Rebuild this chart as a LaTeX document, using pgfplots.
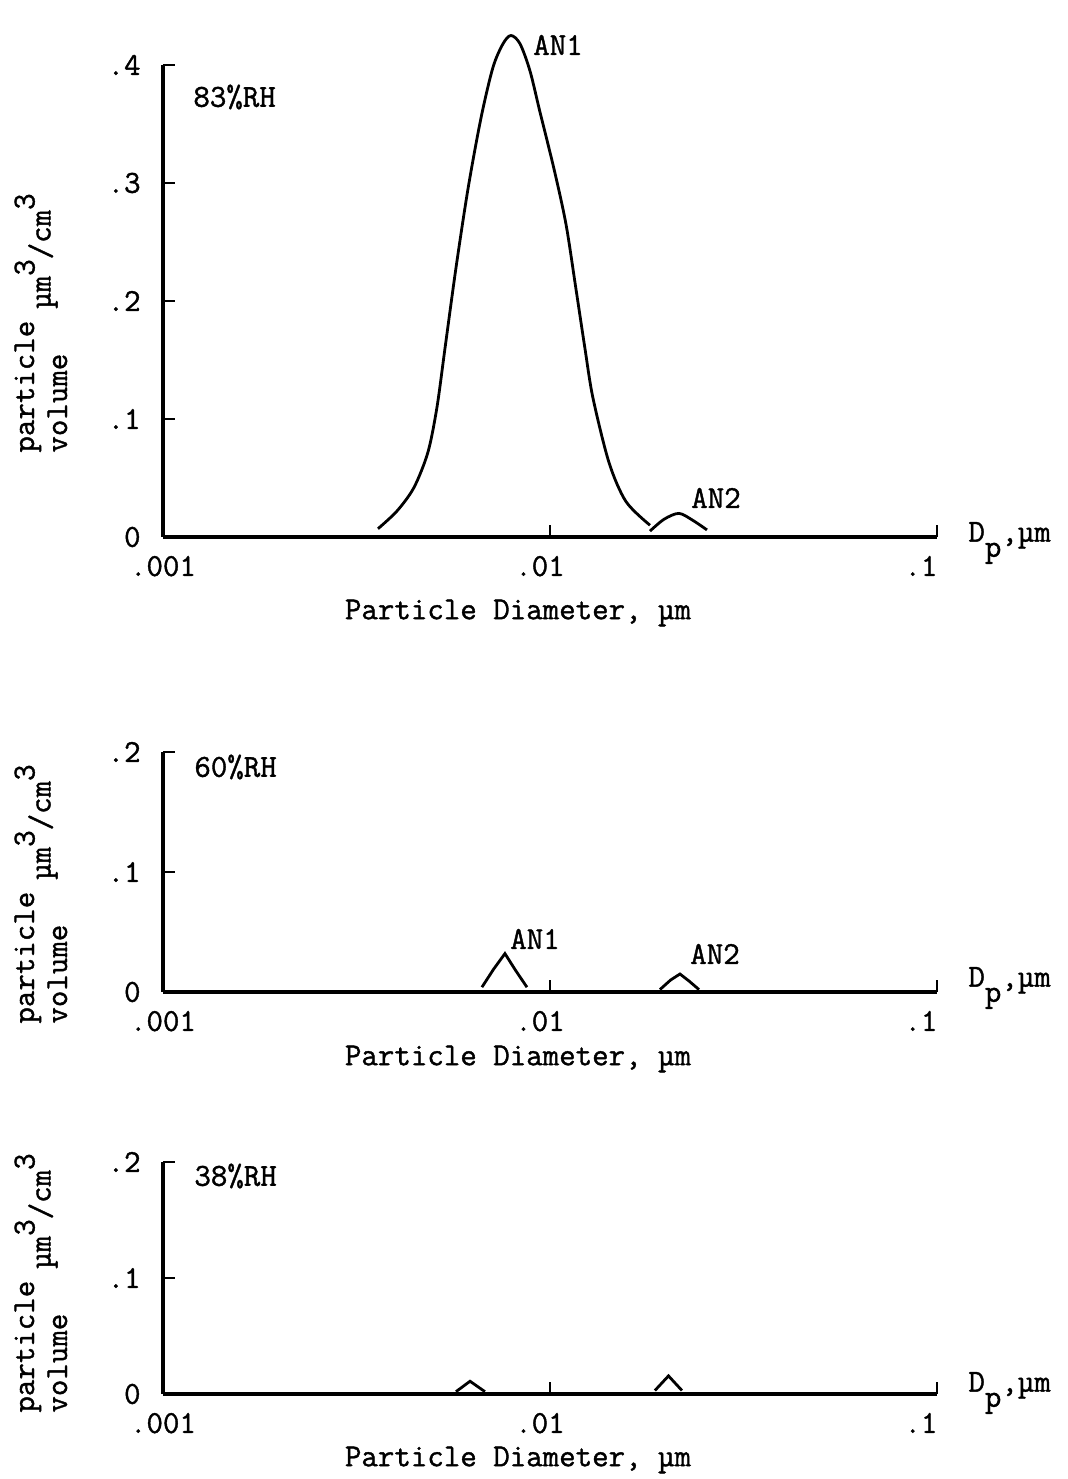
\documentclass[border=0pt]{standalone}
\usepackage{fontspec}
\setmainfont{Latin Modern Mono}[FakeBold=1.2]
\usepackage{pgfplots}
\pgfplotsset{compat=1.18}
\newcommand\lbl{\fontsize{16}{16.5}\selectfont}
\newcommand\tkl{\fontsize{16}{16}\selectfont}
\pgfplotsset{
  panel/.style={
    scale only axis, width=387pt, anchor=south west,
    xmin=0.001, xmax=0.1, ymin=0,
    axis lines=left, axis line style={-, line width=1.8pt},
    xtick={0.001,0.01,0.1}, xticklabels={.001,.01\hspace*{10pt},.1\hspace*{16pt}},
    xminorticks=false, yminorticks=false,
    tick align=inside, major tick length=6pt,
    tick style={line width=1.4pt, black},
    clip=false,
    ticklabel style={font=\tkl, inner sep=1pt},
    yticklabel style={xshift=-10pt},
    xticklabel style={yshift=-8.3pt},
  },
  curve/.style={black, line width=1.4pt, no marks},
}
\newcommand\ylab{\begin{tabular}[b]{@{}l@{}}particle\\volume\end{tabular}\hspace{6pt}\raisebox{8.25pt}{µm\raisebox{8pt}{3}/cm\raisebox{8pt}{3}}}
\newcommand\dpl{D\raisebox{-1.1ex}{p},µm}
\begin{document}
\begin{tikzpicture}
% ---------- panel 1: 83%RH ----------
\begin{axis}[xmode=log, panel, at={(81.5pt,471pt)}, height=236pt, ymax=0.4,
  ytick={0,0.1,0.2,0.3,0.4}, yticklabels={0,.1,.2,.3,.4}]
\addplot[curve, smooth] coordinates {
(0.003594,0.007) (0.004024,0.022) (0.004453,0.042) (0.004839,0.072)
(0.005105,0.110) (0.005355,0.160) (0.005716,0.228) (0.006140,0.295)
(0.006633,0.355) (0.007124,0.398) (0.007563,0.418) (0.007930,0.425)
(0.008367,0.418) (0.008878,0.395) (0.009424,0.360) (0.01024,0.312)
(0.01100,0.265) (0.011674,0.210) (0.01231,0.160) (0.01291,0.118)
(0.01421,0.063) (0.01572,0.030) (0.01813,0.010)};
\addplot[curve, smooth] coordinates {
(0.01813,0.005) (0.01971,0.015) (0.02154,0.020) (0.02342,0.014) (0.02545,0.006)};
\end{axis}
% ---------- panel 2: 60%RH ----------
\begin{axis}[xmode=log, panel, at={(81.5pt,243.5pt)}, height=120pt, ymax=0.2,
  ytick={0,0.1,0.2}, yticklabels={0,.1,.2}]
\addplot[curve] coordinates {
(0.00667,0.004) (0.00715,0.019) (0.00765,0.032) (0.00815,0.018) (0.00872,0.004)};
\addplot[curve] coordinates {
(0.01924,0.002) (0.02050,0.010) (0.02167,0.015) (0.02290,0.009) (0.02427,0.002)};
\end{axis}
% ---------- panel 3: 38%RH ----------
\begin{axis}[xmode=log, panel, at={(81.5pt,42.5pt)}, height=116pt, ymax=0.2,
  ytick={0,0.1,0.2}, yticklabels={0,.1,.2}]
\addplot[curve] coordinates {
(0.005716,0.002) (0.006215,0.011) (0.006792,0.002)};
\addplot[curve] coordinates {
(0.018672,0.003) (0.02024,0.0156) (0.02193,0.003)};
\end{axis}
% ---------- texts ----------
\node[rotate=90, font=\lbl, anchor=base west, inner sep=0pt] at (33.5pt,513pt) {\ylab};
\node[rotate=90, font=\lbl, anchor=base west, inner sep=0pt] at (33.5pt,227.5pt) {\ylab};
\node[rotate=90, font=\lbl, anchor=base west, inner sep=0pt] at (33.5pt,33pt) {\ylab};
\node[font=\lbl, anchor=west, inner sep=0pt] at (96.5pt,691pt) {83\%RH};
\node[font=\lbl, anchor=west, inner sep=0pt] at (97pt,356pt) {60\%RH};
\node[font=\lbl, anchor=west, inner sep=0pt] at (97pt,151.5pt) {38\%RH};
\node[font=\lbl] at (279pt,717pt) {AN1};
\node[font=\lbl] at (358pt,490.5pt) {AN2};
\node[font=\lbl] at (267.5pt,270pt) {AN1};
\node[font=\lbl] at (357.5pt,262.5pt) {AN2};
\node[font=\lbl, anchor=west, inner sep=0pt] at (484pt,468pt) {\dpl};
\node[font=\lbl, anchor=west, inner sep=0pt] at (484pt,245.5pt) {\dpl};
\node[font=\lbl, anchor=west, inner sep=0pt] at (484pt,43pt) {\dpl};
\node[font=\lbl] at (259pt,433pt) {Particle Diameter, µm};
\node[font=\lbl] at (259pt,210pt) {Particle Diameter, µm};
\node[font=\lbl] at (259pt,9.5pt) {Particle Diameter, µm};
\pgfresetboundingbox
\path[use as bounding box] (0,0) rectangle (534pt,739.5pt);
\end{tikzpicture}
\end{document}
